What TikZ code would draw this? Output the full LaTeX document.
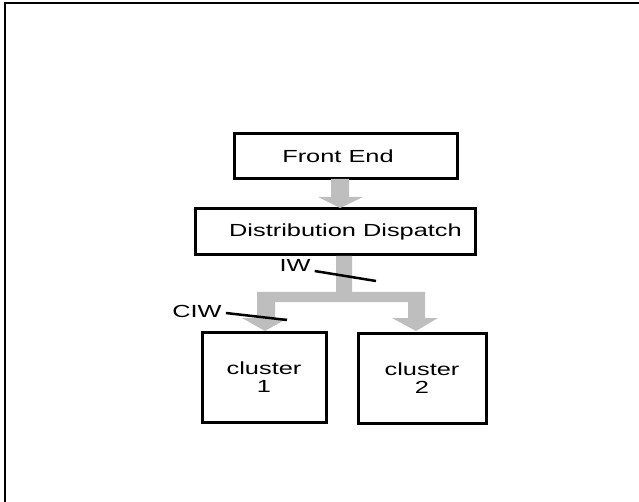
\documentclass[tikz,border=0pt]{standalone}
\usepackage{fontspec}
\setmainfont{Liberation Sans}
\usetikzlibrary{calc}
\definecolor{arrowgray}{RGB}{190,190,190}
\newcommand{\wide}[1]{\scalebox{1.45}[1]{#1}}
\tikzset{
  box/.style={draw=black, line width=3pt, fill=white, inner sep=0pt, align=center,
    font=\fontsize{17.5pt}{17.5pt}\selectfont},
  lbl/.style={inner sep=0pt, font=\fontsize{17.5pt}{17.5pt}\selectfont},
  flow/.style={fill=arrowgray, draw=none},
  pointer/.style={draw=black, line width=2.5pt},
  frame/.style={draw=black, line width=2pt}
}
\begin{document}
\begin{tikzpicture}[x=1pt,y=-1pt]
\useasboundingbox (0,0) rectangle (639,502);
\draw[frame] (5,502) -- (5,3.5) -- (639,3.5);
% boxes
\node[box, minimum width=223pt, minimum height=45pt] (fe) at (345.5,156.5) {\wide{Front End}\hspace*{15pt}};
\node[box, minimum width=280pt, minimum height=46pt] (dd) at (335,232) {\hspace*{21pt}\wide{Distribution Dispatch}};
\node[box, minimum width=124pt, minimum height=90pt] (c1) at (264,377) {\wide{cluster}\\[0pt]\wide{1}};
\node[box, minimum width=128pt, minimum height=90pt] (c2) at (422,378) {\wide{cluster}\\[0pt]\wide{2}};
% gray arrows
\fill[flow] (331,179) -- (349,179) -- (349,197) -- (363,197) -- (340,208) -- (318,197) -- (331,197) -- cycle;
\fill[flow] (336,256) -- (352,256) -- (352,292) -- (425,292) -- (425,318) -- (438,318)
  -- (416,331) -- (392,318) -- (408,318) -- (408,302) -- (275,302) -- (275,318)
  -- (288,318) -- (265,331) -- (242,318) -- (257,318) -- (257,292) -- (336,292) -- cycle;
% labels
\node[lbl] (iw) at (295,265) {\wide{IW}};
\node[lbl] (ciw) at (197,311) {\wide{CIW}};
\coordinate (iwend) at (376,281);
\coordinate (ciwend) at (287,320);
\draw[pointer] (iw.east) ++(4,6) -- (iwend);
\draw[pointer] (ciw.east) ++(4,2) -- (ciwend);
\end{tikzpicture}
\end{document}
